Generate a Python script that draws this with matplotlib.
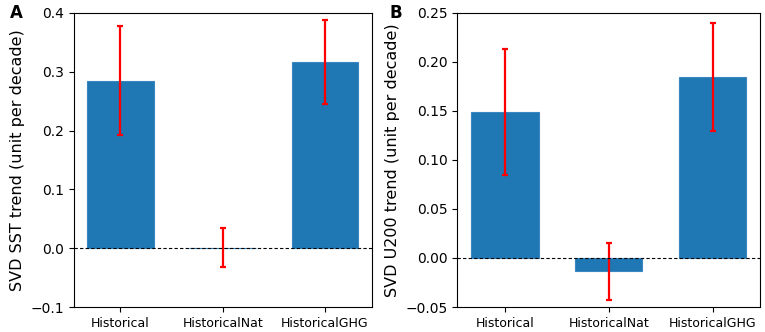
import numpy as np
import matplotlib
matplotlib.use("Agg")
import matplotlib.pyplot as plt

# experiments on the x axis
labels = ["Historical", "HistoricalNat", "HistoricalGHG"]

# panel A: SST trend
sst_trend = [0.285, 0.001, 0.317]
sst_err = [0.092, 0.033, 0.071]

# panel B: U200 trend
u200_trend = [0.149, -0.0135, 0.1847]
u200_err = [0.064, 0.029, 0.055]

plt.rcParams["font.family"] = "DejaVu Sans"
plt.rcParams["font.size"] = 10

fig = plt.figure(figsize=(7.65, 3.32), dpi=100)
ax1 = fig.add_axes([0.0963, 0.0753, 0.3897, 0.8857])
ax2 = fig.add_axes([0.598, 0.0753, 0.3955, 0.8857])

x = np.arange(len(labels))

def draw(ax, vals, errs, ylim, ylabel, letter, lx):
    ax.bar(x, vals, width=0.65, color="#1f77b4", edgecolor="#3a86c0", linewidth=0.8)
    ax.errorbar(x, vals, yerr=errs, fmt="none", ecolor="red", elinewidth=1.6,
                capsize=2.3, capthick=1.6)
    ax.axhline(0, color="black", linestyle="--", linewidth=0.8, dashes=(3, 2))
    ax.set_xticks(x)
    ax.set_xticklabels(labels, fontsize=9)
    ax.set_ylim(ylim)
    ax.set_ylabel(ylabel, fontsize=11.5)
    ax.tick_params(axis="y", labelsize=10)
    ax.text(lx, 1.0, letter, transform=ax.transAxes, fontsize=12,
            fontweight="bold", ha="left", va="center")

draw(ax1, sst_trend, sst_err, (-0.1, 0.4), "SVD SST trend (unit per decade)", "A", -0.215)
ax1.set_yticks([-0.1, 0.0, 0.1, 0.2, 0.3, 0.4])

draw(ax2, u200_trend, u200_err, (-0.05, 0.25), "SVD U200 trend (unit per decade)", "B", -0.225)
ax2.set_yticks([-0.05, 0.0, 0.05, 0.10, 0.15, 0.20, 0.25])
ax2.set_yticklabels(["\u22120.05", "0.00", "0.05", "0.10", "0.15", "0.20", "0.25"])

fig.savefig("out.png", dpi=100)
